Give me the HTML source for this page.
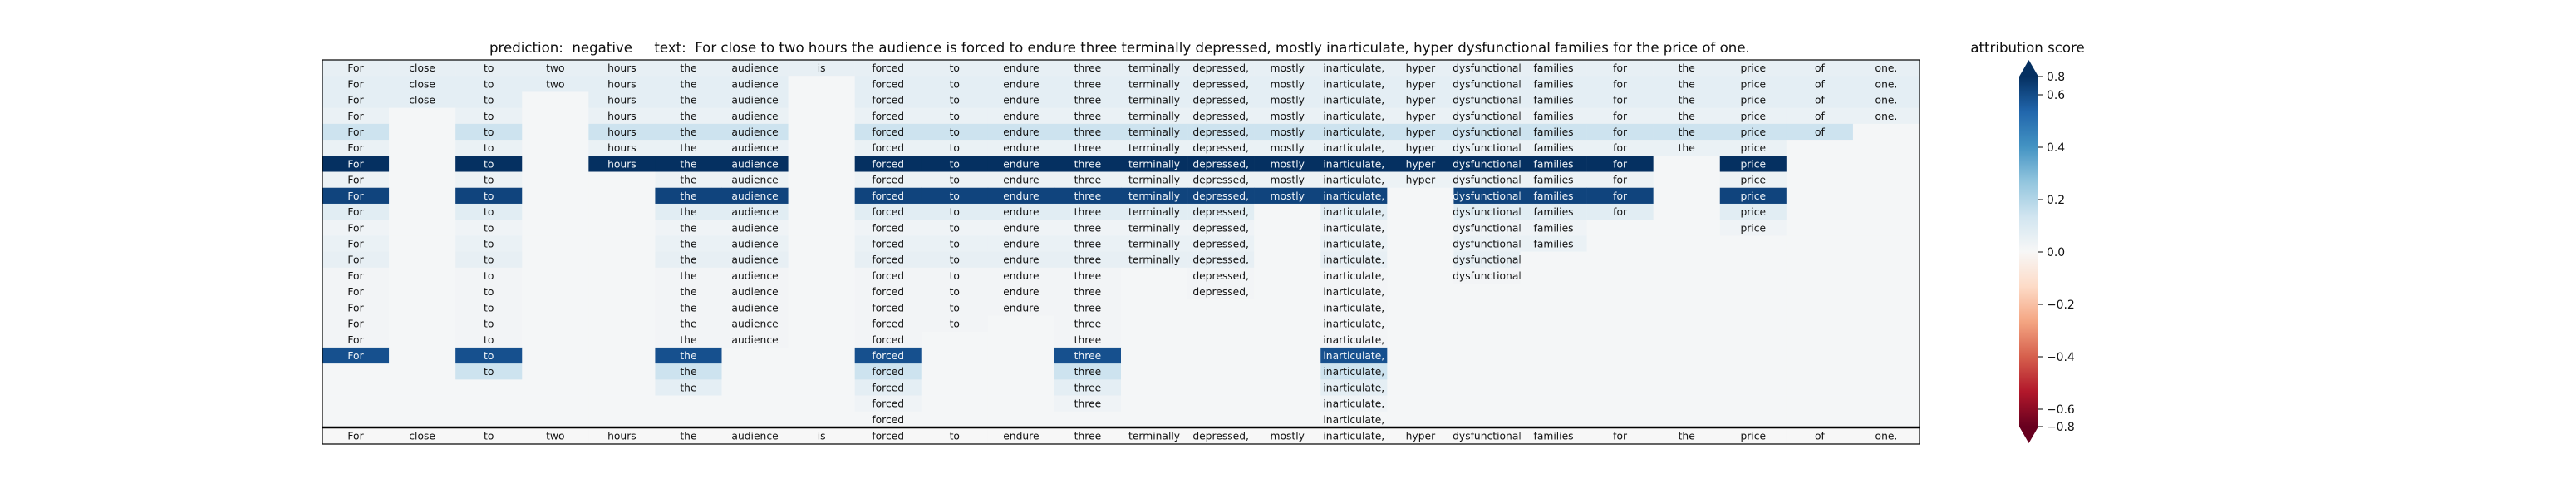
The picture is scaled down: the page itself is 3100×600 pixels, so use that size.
<!DOCTYPE html>
<html><head><meta charset="utf-8"><style>
html,body{margin:0;padding:0;background:#fff;}
svg{display:block;font-family:"DejaVu Sans","Liberation Sans",sans-serif;}
</style></head><body>
<svg id="chart" width="3100" height="600" viewBox="0 0 3100 600" xmlns="http://www.w3.org/2000/svg">
<defs>
<linearGradient id="rdbu" x1="0" y1="1" x2="0" y2="0">
<stop offset="0" stop-color="#67001f"/><stop offset="0.1" stop-color="#b2182b"/><stop offset="0.2" stop-color="#d6604d"/><stop offset="0.3" stop-color="#f4a582"/><stop offset="0.4" stop-color="#fddbc7"/><stop offset="0.5" stop-color="#f7f7f7"/><stop offset="0.6" stop-color="#d1e5f0"/><stop offset="0.7" stop-color="#92c5de"/><stop offset="0.8" stop-color="#4393c3"/><stop offset="0.9" stop-color="#2166ac"/><stop offset="1" stop-color="#053061"/>
</linearGradient>
</defs>
<text x="589" y="63" font-size="16.6" fill="#111" style="white-space:pre" xml:space="preserve">prediction:  negative     text:  For close to two hours the audience is forced to endure three terminally depressed, mostly inarticulate, hyper dysfunctional families for the price of one.</text>
<g id="cells"></g>
<g id="baseline"></g>
<rect x="388" y="72" width="1922" height="462" fill="none" stroke="#000" stroke-width="1.2"/>
<line x1="388" y1="514" x2="2310" y2="514" stroke="#000" stroke-width="2.5"/>
<g>
<text x="2440" y="63" font-size="16.6" text-anchor="middle" fill="#111">attribution score</text>
<polygon points="2430,92 2453,92 2441.5,72" fill="#053061"/>
<rect x="2430" y="92" width="23" height="421" fill="url(#rdbu)"/>
<polygon points="2430,513 2453,513 2441.5,533" fill="#67001f"/>
<g id="cbticks"></g>
</g>
</svg>
<script>
const words = ["For","close","to","two","hours","the","audience","is","forced","to","endure","three","terminally","depressed,","mostly","inarticulate,","hyper","dysfunctional","families","for","the","price","of","one."];
const rowValues = [0.06,0.07,0.07,0.05,0.15,0.05,0.8,0.04,0.7,0.08,0.03,0.05,0.06,0.02,0.02,0.02,0.02,0.02,0.64,0.15,0.07,0.03,0.01];
const rowMissing = [
 [],[7],[3,7],[1,3,7],[1,3,7,23],[1,3,7,22,23],[1,3,7,20,22,23],[1,3,4,7,20,22,23],
 [1,3,4,7,16,20,22,23],[1,3,4,7,14,16,20,22,23],[1,3,4,7,14,16,19,20,22,23],
 [1,3,4,7,14,16,19,20,21,22,23],[1,3,4,7,14,16,18,19,20,21,22,23],
 [1,3,4,7,12,14,16,18,19,20,21,22,23],[1,3,4,7,12,14,16,17,18,19,20,21,22,23],
 [1,3,4,7,12,13,14,16,17,18,19,20,21,22,23],[1,3,4,7,10,12,13,14,16,17,18,19,20,21,22,23],
 [1,3,4,7,9,10,12,13,14,16,17,18,19,20,21,22,23],[1,3,4,6,7,9,10,12,13,14,16,17,18,19,20,21,22,23],
 [0,1,3,4,6,7,9,10,12,13,14,16,17,18,19,20,21,22,23],[0,1,2,3,4,6,7,9,10,12,13,14,16,17,18,19,20,21,22,23],
 [0,1,2,3,4,5,6,7,9,10,12,13,14,16,17,18,19,20,21,22,23],[0,1,2,3,4,5,6,7,9,10,11,12,13,14,16,17,18,19,20,21,22,23]
];
const emptyValue = 0.01;
const baselineValue = 0.0;
const cbTickValues = [0.8,0.6,0.4,0.2,0.0,-0.2,-0.4,-0.6,-0.8];
const cbTickLabels = ["0.8","0.6","0.4","0.2","0.0","\u22120.2","\u22120.4","\u22120.6","\u22120.8"];

const NS="http://www.w3.org/2000/svg";
const X0=388, W=1922, Y0=72, ROWS_H=442;
const colW=W/words.length, rowH=ROWS_H/rowValues.length;
const xScale=i=>X0+i*colW;
const yScale=r=>Y0+r*rowH;
const stops=[[103,0,31],[178,24,43],[214,96,77],[244,165,130],[253,219,199],[247,247,247],[209,229,240],[146,197,222],[67,147,195],[33,102,172],[5,48,97]];
function norm(v){const a=Math.abs(v),s=Math.sign(v);
 let d=a<=0.6? a/0.6*0.425 : 0.425+Math.min(1,(a-0.6)/0.2)*0.075;
 return 0.5+s*d;}
function color(v){let t=Math.max(0,Math.min(1,norm(v)))*10;let i=Math.min(9,Math.floor(t)),f=t-i;
 const a=stops[i],b=stops[i+1];return "rgb("+a.map((c,k)=>Math.round(c+(b[k]-c)*f)).join(",")+")";}
const cells=document.getElementById("cells");
function mk(tag,attrs,parent){const e=document.createElementNS(NS,tag);for(const k in attrs)e.setAttribute(k,attrs[k]);parent.appendChild(e);return e;}
rowValues.forEach((v,r)=>{
 words.forEach((w,c)=>{
  const present=rowMissing[r].indexOf(c)<0;
  const val=present?v:emptyValue;
  const rect=mk("rect",{x:xScale(c),y:yScale(r),width:colW+0.3,height:rowH+0.3,fill:color(val)},cells);
  
  
  if(present){
   const t=mk("text",{x:xScale(c)+colW/2,y:yScale(r)+rowH/2+4.5,"font-size":"12.3","text-anchor":"middle",fill:v>0.4?"#f0f4f8":"#111"},cells);
   t.textContent=w;
   
   
  }
 });
});
const base=document.getElementById("baseline");
words.forEach((w,c)=>{
 const rect=mk("rect",{x:xScale(c),y:514,width:colW+0.3,height:20,fill:color(baselineValue)},base);
 
 
 const t=mk("text",{x:xScale(c)+colW/2,y:528.5,"font-size":"12.3","text-anchor":"middle",fill:"#111"},base);
 t.textContent=w;
 
 
});
const cbY=v=>Math.max(92,Math.min(513,303-v*315));
const cbt=document.getElementById("cbticks");
cbTickValues.forEach((v,i)=>{
 const y=cbY(v);
 const l=mk("line",{x1:2453,y1:y,x2:2458,y2:y,stroke:"#000","stroke-width":"1"},cbt);
 
 
 const t=mk("text",{x:2463,y:y+5,"font-size":"13.9",fill:"#111"},cbt);
 t.textContent=cbTickLabels[i];
 
 
});
</script>
</body></html>
